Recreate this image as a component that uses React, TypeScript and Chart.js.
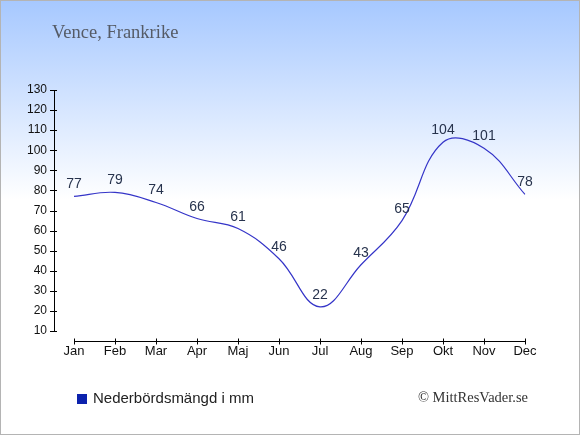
import React, { useEffect, useRef } from 'react';
import { Chart, ChartConfiguration, Plugin, registerables } from 'chart.js';

Chart.register(...registerables);

// Data
const months = ['Jan', 'Feb', 'Mar', 'Apr', 'Maj', 'Jun', 'Jul', 'Aug', 'Sep', 'Okt', 'Nov', 'Dec'];
const rainfall = [77, 79, 74, 66, 61, 46, 22, 43, 65, 104, 101, 78];
const yMin = 10;
const yMax = 130;
const yStep = 10;

const titleText = 'Vence, Frankrike';
const legendText = 'Nederbördsmängd i mm';
const creditText = '© MittResVader.se';

const sans = '"Liberation Sans", Arial, sans-serif';
const serif = '"Liberation Serif", "Times New Roman", serif';

// Background gradient + frame
const backgroundPlugin: Plugin = {
  id: 'background',
  beforeDraw: (chart) => {
    const { ctx, width, height } = chart;
    ctx.save();
    const g = ctx.createLinearGradient(0, 0, 0, 200);
    g.addColorStop(0, '#a6c8ff');
    g.addColorStop(1, '#ffffff');
    ctx.fillStyle = g;
    ctx.fillRect(0, 0, width, height);
    ctx.strokeStyle = '#b4b4b4';
    ctx.lineWidth = 1;
    ctx.strokeRect(0.5, 0.5, width - 1, height - 1);
    ctx.restore();
  },
};

// Detached axis lines with tick marks, drawn at the library's scale positions
const axesPlugin: Plugin = {
  id: 'axes',
  afterDraw: (chart) => {
    const { ctx, chartArea } = chart;
    const x = chart.scales.x;
    const y = chart.scales.y;
    ctx.save();
    ctx.strokeStyle = '#000';
    ctx.lineWidth = 1;
    ctx.beginPath();
    // y axis
    const ax = 54.5;
    ctx.moveTo(ax, y.getPixelForValue(yMax));
    ctx.lineTo(ax, y.getPixelForValue(yMin));
    y.ticks.forEach((t) => {
      const py = Math.round(y.getPixelForValue(t.value)) + 0.5;
      ctx.moveTo(50, py);
      ctx.lineTo(57, py);
    });
    // x axis
    const ay = chartArea.bottom + 10.5;
    ctx.moveTo(x.getPixelForValue(0), ay);
    ctx.lineTo(x.getPixelForValue(months.length - 1), ay);
    months.forEach((_, i) => {
      const px = Math.round(x.getPixelForValue(i)) + 0.5;
      ctx.moveTo(px, ay - 3);
      ctx.lineTo(px, ay + 3);
    });
    ctx.stroke();
    ctx.restore();
  },
};

// Value labels above each point
const valueLabelsPlugin: Plugin = {
  id: 'valueLabels',
  afterDatasetsDraw: (chart) => {
    const { ctx } = chart;
    const meta = chart.getDatasetMeta(0);
    ctx.save();
    ctx.font = `14px ${sans}`;
    ctx.fillStyle = '#27334d';
    ctx.textAlign = 'center';
    ctx.textBaseline = 'alphabetic';
    meta.data.forEach((pt, i) => {
      ctx.fillText(String(rainfall[i]), pt.x, pt.y - 8);
    });
    ctx.restore();
  },
};

// Title, legend and credit text
const textPlugin: Plugin = {
  id: 'texts',
  afterDraw: (chart) => {
    const { ctx } = chart;
    ctx.save();
    ctx.textBaseline = 'alphabetic';
    ctx.font = `18.5px ${serif}`;
    ctx.fillStyle = '#555b66';
    ctx.textAlign = 'left';
    ctx.fillText(titleText, 52, 38);

    ctx.fillStyle = '#0c22ad';
    ctx.fillRect(77, 394, 10, 10);
    ctx.font = `15px ${sans}`;
    ctx.fillStyle = '#222';
    ctx.fillText(legendText, 93, 403);

    ctx.font = `14.5px ${serif}`;
    ctx.fillStyle = '#333';
    ctx.textAlign = 'right';
    ctx.fillText(creditText, 528, 402);
    ctx.restore();
  },
};

const App: React.FC = () => {
  const canvasRef = useRef<HTMLCanvasElement | null>(null);
  const chartRef = useRef<Chart | null>(null);

  useEffect(() => {
    if (!canvasRef.current) return;
    document.body.style.margin = '0';
    if (chartRef.current) chartRef.current.destroy();

    const config: ChartConfiguration = {
      type: 'line',
      data: {
        labels: months,
        datasets: [
          {
            label: legendText,
            data: rainfall,
            borderColor: '#3535c8',
            borderWidth: 1.2,
            pointRadius: 0,
            tension: 0.4,
            fill: false,
          },
        ],
      },
      options: {
        responsive: false,
        animation: false,
        layout: { padding: { top: 90, right: 55, left: 0, bottom: 0 } },
        plugins: {
          legend: { display: false },
          tooltip: { enabled: false },
        },
        scales: {
          x: {
            offset: false,
            grid: { display: false, drawTicks: false },
            border: { display: false },
            ticks: {
              color: '#111',
              font: { family: sans, size: 13 },
              padding: 13,
              maxRotation: 0,
              autoSkip: false,
            },
            afterFit: (scale) => {
              scale.height = 104;
            },
          },
          y: {
            min: yMin,
            max: yMax,
            grid: { display: false, drawTicks: false },
            border: { display: false },
            ticks: {
              stepSize: yStep,
              color: '#111',
              font: { family: sans, size: 12 },
              padding: 27,
            },
            afterFit: (scale) => {
              scale.width = 74;
            },
          },
        },
      },
      plugins: [backgroundPlugin, axesPlugin, valueLabelsPlugin, textPlugin],
    };

    chartRef.current = new Chart(canvasRef.current, config);

    return () => {
      if (chartRef.current) {
        chartRef.current.destroy();
        chartRef.current = null;
      }
    };
  }, []);

  return (
    <div style={{ position: 'absolute', left: 0, top: 0, width: 580, height: 435 }}>
      <canvas ref={canvasRef} width={580} height={435} style={{ width: 580, height: 435 }} />
    </div>
  );
};

export default App;
